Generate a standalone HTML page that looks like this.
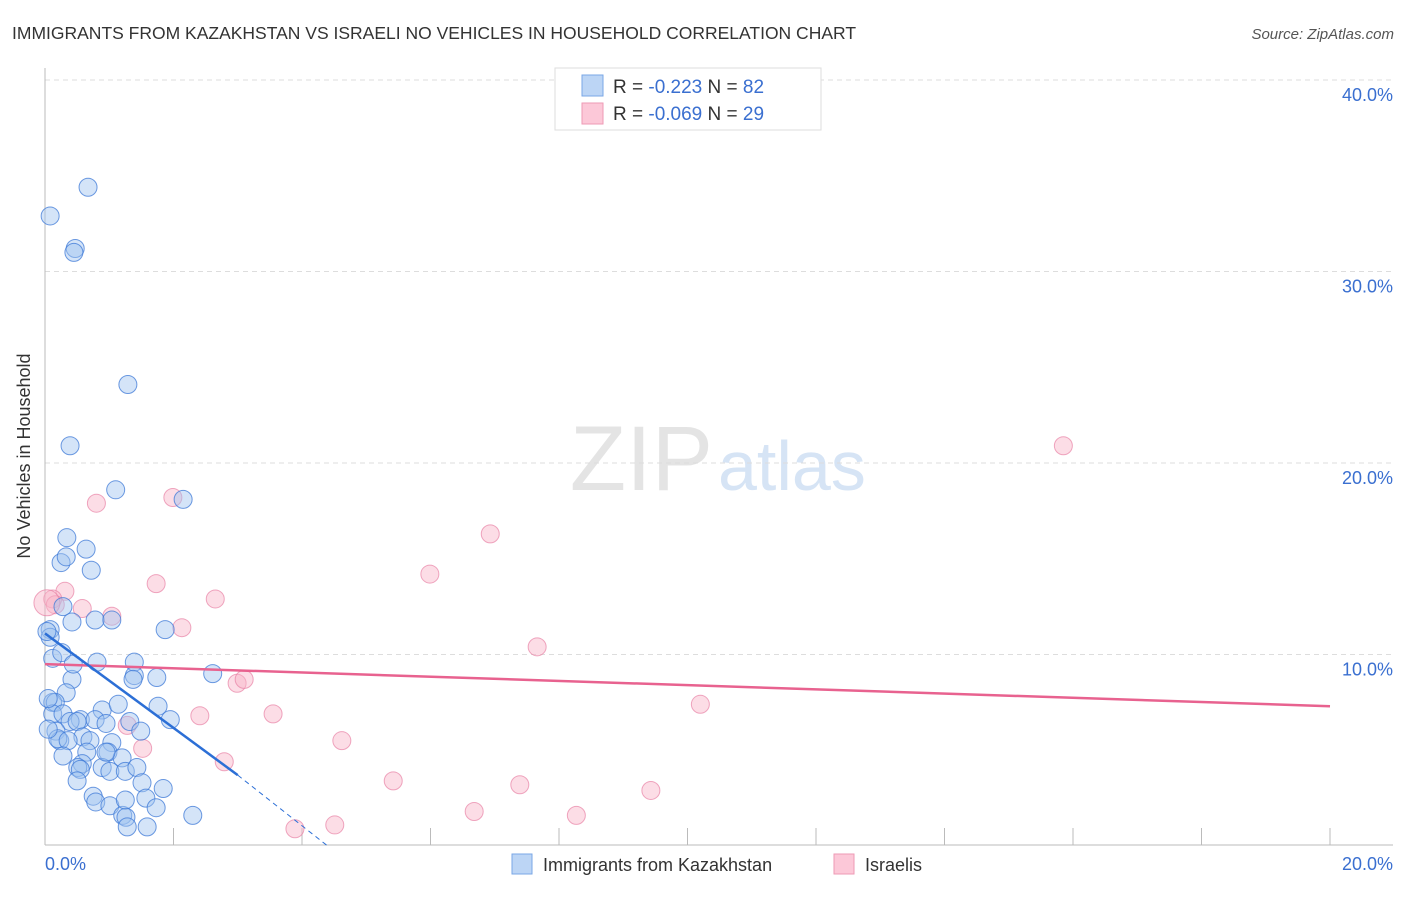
<!DOCTYPE html>
<html><head><meta charset="utf-8"><style>
body{margin:0;background:#fff;font-family:"Liberation Sans",sans-serif}
svg text{font-family:"Liberation Sans",sans-serif}
</style></head><body>
<svg width="1406" height="892" xmlns="http://www.w3.org/2000/svg">
<text x="12" y="39" font-size="17.5" fill="#333">IMMIGRANTS FROM KAZAKHSTAN VS ISRAELI NO VEHICLES IN HOUSEHOLD CORRELATION CHART</text>
<text x="1394" y="39" font-size="15" fill="#555" font-style="italic" text-anchor="end">Source: ZipAtlas.com</text>
<text x="713" y="490" font-size="92" fill="#e4e4e4" text-anchor="end" font-family="Liberation Serif">ZIP</text>
<text x="718" y="490" font-size="70" fill="#d6e4f5">atlas</text>
<g id="grid"></g>
<line x1="45" y1="68" x2="45" y2="845" stroke="#bbb"/>
<line x1="45" y1="845" x2="1393" y2="845" stroke="#bbb"/>
<text x="30" y="456" font-size="18" fill="#333" text-anchor="middle" transform="rotate(-90 30 456)">No Vehicles in Household</text>
<text x="45" y="870" font-size="18" fill="#3a6fd0">0.0%</text>
<text x="1393" y="870" font-size="18" fill="#3a6fd0" text-anchor="end">20.0%</text>
<g id="pts"></g>
<g>
<rect x="555" y="68" width="266" height="62" fill="#fff" stroke="#ddd"/>
<rect x="582" y="75" width="21" height="21" fill="#bcd5f5" stroke="#7aa7e6"/>
<rect x="582" y="103" width="21" height="21" fill="#fcc8d8" stroke="#ee9ab5"/>
<text x="613" y="93" font-size="19" fill="#333">R = <tspan fill="#3a6fd0"> -0.223</tspan>   N = <tspan fill="#3a6fd0">82</tspan></text>
<text x="613" y="120" font-size="19" fill="#333">R = <tspan fill="#3a6fd0">-0.069</tspan>   N = <tspan fill="#3a6fd0">29</tspan></text>
</g>
<g>
<rect x="512" y="854" width="20" height="20" fill="#bcd5f5" stroke="#7aa7e6"/>
<text x="543" y="871" font-size="18" fill="#333">Immigrants from Kazakhstan</text>
<rect x="834" y="854" width="20" height="20" fill="#fcc8d8" stroke="#ee9ab5"/>
<text x="865" y="871" font-size="18" fill="#333">Israelis</text>
</g>
</svg>
<script>
const yTicks=[10,20,30,40];
const yTickLabels=["10.0%","20.0%","30.0%","40.0%"];
const xTicks=[2,4,6,8,10,12,14,16,18,20];
const blueX=[0.67,0.08,0.47,0.45,1.29,0.39,1.10,2.15,0.34,0.64,0.25,0.33,0.72,0.28,0.42,0.78,1.04,1.87,0.08,0.08,0.12,0.26,0.81,1.39,1.39,2.61,1.37,1.74,0.42,0.44,0.33,0.12,0.16,0.55,0.89,1.14,1.76,0.12,0.28,0.39,0.50,0.78,0.95,1.32,1.95,0.17,1.49,0.59,0.23,0.20,0.36,0.70,1.04,0.98,0.65,1.20,0.58,0.51,0.55,0.89,1.01,1.25,1.43,1.51,1.84,0.75,0.79,1.01,1.57,1.73,1.21,1.26,1.28,1.59,2.30,0.05,0.05,0.28,1.25,0.95,0.50,0.03];
const blueY=[34.4,32.9,31.2,31.0,24.1,20.9,18.6,18.1,16.1,15.5,14.8,15.1,14.4,12.5,11.7,11.8,11.8,11.3,11.3,10.9,9.8,10.1,9.6,9.6,8.9,9.0,8.7,8.8,8.7,9.5,8.0,7.5,7.5,6.6,7.1,7.4,7.3,6.9,6.9,6.5,6.5,6.6,6.4,6.5,6.6,6.0,6.0,5.7,5.5,5.6,5.5,5.5,5.4,4.9,4.9,4.6,4.3,4.1,4.0,4.1,3.9,3.9,4.1,3.3,3.0,2.6,2.3,2.1,2.5,2.0,1.6,1.5,1.0,1.0,1.6,7.7,6.1,4.7,2.4,4.9,3.4,11.2];
const pinkX=[0.80,1.99,0.31,0.12,0.16,0.58,1.04,1.73,2.65,2.13,1.28,1.52,2.41,2.79,2.99,6.93,15.85,5.99,7.66,3.10,3.55,10.20,4.62,5.42,7.39,9.43,6.68,8.27,4.51,3.89,0.03];
const pinkY=[17.9,18.2,13.3,12.9,12.6,12.4,12.0,13.7,12.9,11.4,6.3,5.1,6.8,4.4,8.5,16.3,20.9,14.2,10.4,8.7,6.9,7.4,5.5,3.4,3.2,2.9,1.8,1.6,1.1,0.9,12.7];
const blueLine=[[0,11.1],[3,3.7]], blueDash=[[3,3.7],[4.4,0]];
const pinkLine=[[0,9.5],[20,7.3]];
const X=v=>45+v*64.25, Y=v=>846-v*19.15;
const NS="http://www.w3.org/2000/svg";
const grid=document.getElementById('grid'), pts=document.getElementById('pts');
function mk(tag,attrs,parent){const e=document.createElementNS(NS,tag);for(const k in attrs)e.setAttribute(k,attrs[k]);parent.appendChild(e);return e;}
yTicks.forEach((t,i)=>{
 const l=mk('line',{x1:45,x2:1393,y1:Y(t),y2:Y(t),stroke:'#ddd','stroke-dasharray':'5,4'},grid);
 
 
 const tx=mk('text',{x:1393,y:Y(t)+21,'font-size':18,fill:'#3a6fd0','text-anchor':'end'},grid);
 tx.textContent=yTickLabels[i];
 
 
});
xTicks.forEach(t=>{
 const l=mk('line',{x1:X(t),x2:X(t),y1:828,y2:845,stroke:'#bbb'},grid);
 
 
});
pinkX.forEach((v,i)=>{
 const c=mk('circle',{cx:X(v),cy:Y(pinkY[i]),r:i==pinkX.length-1?13:9,fill:'rgba(248,180,200,0.45)',stroke:'rgba(232,130,165,0.7)','stroke-width':1},pts);
 
 
});
blueX.forEach((v,i)=>{
 const c=mk('circle',{cx:X(v),cy:Y(blueY[i]),r:9,fill:'rgba(160,196,240,0.45)',stroke:'rgba(60,120,215,0.75)','stroke-width':1},pts);
 
 
});
let l=mk('line',{x1:X(pinkLine[0][0]),y1:Y(pinkLine[0][1]),x2:X(pinkLine[1][0]),y2:Y(pinkLine[1][1]),stroke:'#e8628f','stroke-width':2.5},pts);


l=mk('line',{x1:X(blueLine[0][0]),y1:Y(blueLine[0][1]),x2:X(blueLine[1][0]),y2:Y(blueLine[1][1]),stroke:'#2c6fd6','stroke-width':2.5},pts);


l=mk('line',{x1:X(blueDash[0][0]),y1:Y(blueDash[0][1]),x2:X(blueDash[1][0]),y2:Y(blueDash[1][1]),stroke:'#2c6fd6','stroke-width':1,'stroke-dasharray':'5,4'},pts);


</script>
</body></html>
